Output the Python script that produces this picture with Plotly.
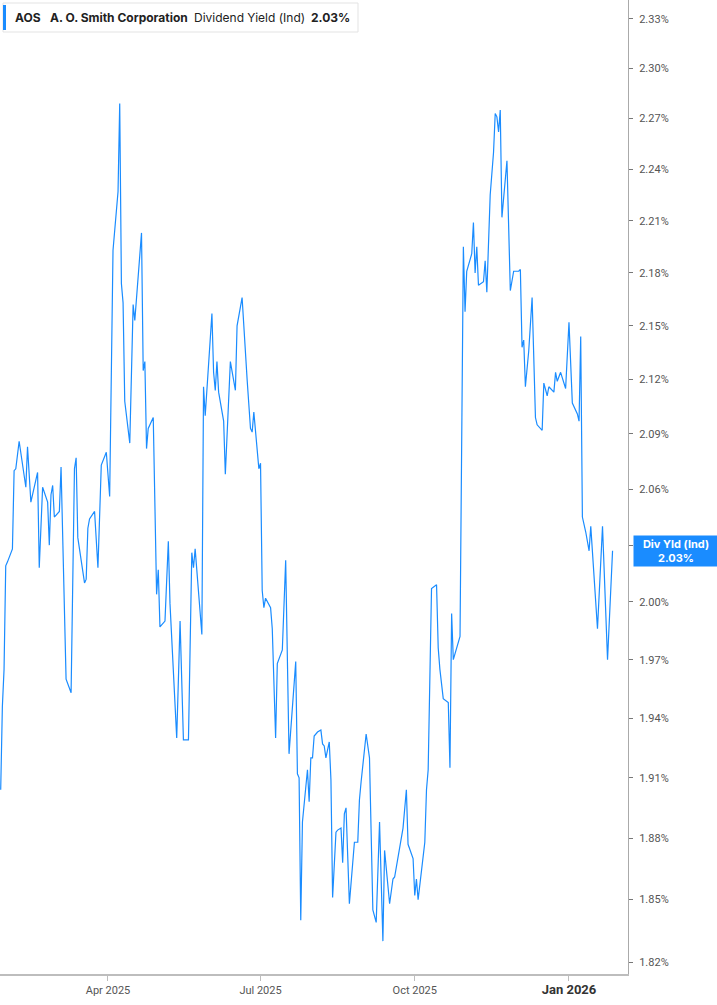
import math
import plotly.graph_objects as go

# dividend yield (indicated), %
dates = [
    "2025-01-27", "2025-01-28", "2025-01-29", "2025-01-30", "2025-01-31",
    "2025-02-03", "2025-02-04", "2025-02-05", "2025-02-07", "2025-02-11",
    "2025-02-12", "2025-02-14", "2025-02-18", "2025-02-19", "2025-02-21",
    "2025-02-24", "2025-02-25", "2025-02-26", "2025-02-27", "2025-02-28",
    "2025-03-03", "2025-03-04", "2025-03-07", "2025-03-10", "2025-03-12",
    "2025-03-13", "2025-03-14", "2025-03-18", "2025-03-19", "2025-03-20",
    "2025-03-21", "2025-03-24", "2025-03-26", "2025-03-28", "2025-03-31",
    "2025-04-02", "2025-04-04", "2025-04-07", "2025-04-08", "2025-04-09",
    "2025-04-10", "2025-04-11", "2025-04-14", "2025-04-16", "2025-04-17",
    "2025-04-21", "2025-04-22", "2025-04-23", "2025-04-24", "2025-04-25",
    "2025-04-28", "2025-04-30", "2025-05-01", "2025-05-02", "2025-05-05",
    "2025-05-07", "2025-05-08", "2025-05-12", "2025-05-14", "2025-05-16",
    "2025-05-19", "2025-05-21", "2025-05-22", "2025-05-23", "2025-05-27",
    "2025-05-28", "2025-05-29", "2025-06-02", "2025-06-03", "2025-06-04",
    "2025-06-05", "2025-06-06", "2025-06-09", "2025-06-10", "2025-06-13",
    "2025-06-16", "2025-06-17", "2025-06-20", "2025-06-23", "2025-06-25",
    "2025-06-26", "2025-06-27", "2025-06-30", "2025-07-01", "2025-07-02",
    "2025-07-03", "2025-07-04", "2025-07-07", "2025-07-08", "2025-07-10",
    "2025-07-11", "2025-07-14", "2025-07-16", "2025-07-18", "2025-07-22",
    "2025-07-23", "2025-07-24", "2025-07-25", "2025-07-26", "2025-07-29",
    "2025-07-30", "2025-07-31", "2025-08-01", "2025-08-02", "2025-08-04",
    "2025-08-06", "2025-08-07", "2025-08-08", "2025-08-09", "2025-08-11",
    "2025-08-12", "2025-08-13", "2025-08-15", "2025-08-16", "2025-08-18",
    "2025-08-19", "2025-08-20", "2025-08-21", "2025-08-23", "2025-08-26",
    "2025-08-28", "2025-08-29", "2025-08-30", "2025-09-02", "2025-09-04",
    "2025-09-06", "2025-09-08", "2025-09-10", "2025-09-12", "2025-09-13",
    "2025-09-16", "2025-09-18", "2025-09-19", "2025-09-23", "2025-09-24",
    "2025-09-26", "2025-09-27", "2025-09-30", "2025-10-01", "2025-10-02",
    "2025-10-03", "2025-10-07", "2025-10-08", "2025-10-09", "2025-10-11",
    "2025-10-14", "2025-10-15", "2025-10-16", "2025-10-18", "2025-10-21",
    "2025-10-22", "2025-10-23", "2025-10-24", "2025-10-28", "2025-10-30",
    "2025-10-31", "2025-11-01", "2025-11-04", "2025-11-05", "2025-11-06",
    "2025-11-07", "2025-11-08", "2025-11-11", "2025-11-12", "2025-11-13",
    "2025-11-15", "2025-11-17", "2025-11-18", "2025-11-19", "2025-11-20",
    "2025-11-21", "2025-11-22", "2025-11-25", "2025-11-27", "2025-11-29",
    "2025-12-02", "2025-12-03", "2025-12-04", "2025-12-05", "2025-12-06",
    "2025-12-08", "2025-12-10", "2025-12-12", "2025-12-13", "2025-12-16",
    "2025-12-17", "2025-12-19", "2025-12-20", "2025-12-23", "2025-12-24",
    "2025-12-25", "2025-12-27", "2025-12-30", "2026-01-01", "2026-01-03",
    "2026-01-06", "2026-01-07", "2026-01-08", "2026-01-09", "2026-01-11",
    "2026-01-13", "2026-01-14", "2026-01-18", "2026-01-21", "2026-01-24",
    "2026-01-27",
]

div_yield = [
    1.904, 1.946, 1.965, 2.019, 2.021,
    2.028, 2.070, 2.071, 2.086, 2.061,
    2.083, 2.053, 2.069, 2.018, 2.061,
    2.053, 2.030, 2.057, 2.062, 2.045,
    2.048, 2.072, 1.960, 1.953, 2.071,
    2.077, 2.034, 2.010, 2.012, 2.039,
    2.044, 2.048, 2.018, 2.073, 2.080,
    2.056, 2.193, 2.227, 2.279, 2.174,
    2.163, 2.108, 2.085, 2.162, 2.153,
    2.203, 2.125, 2.130, 2.082, 2.093,
    2.099, 2.004, 2.017, 1.987, 1.990,
    2.032, 1.999, 1.930, 1.990, 1.929,
    1.929, 2.026, 2.018, 2.028, 1.983,
    2.116, 2.100, 2.157, 2.124, 2.114,
    2.130, 2.113, 2.097, 2.068, 2.130,
    2.114, 2.150, 2.166, 2.120, 2.093,
    2.091, 2.102, 2.071, 2.074, 2.006,
    1.997, 2.002, 1.997, 1.986, 1.930,
    1.968, 1.975, 2.022, 1.922, 1.969,
    1.912, 1.910, 1.840, 1.888, 1.914,
    1.898, 1.920, 1.920, 1.931, 1.933,
    1.934, 1.927, 1.926, 1.920, 1.928,
    1.909, 1.851, 1.883, 1.884, 1.885,
    1.868, 1.892, 1.895, 1.848, 1.878,
    1.878, 1.899, 1.908, 1.932, 1.920,
    1.845, 1.839, 1.888, 1.830, 1.874,
    1.848, 1.860, 1.861, 1.882, 1.885,
    1.904, 1.877, 1.870, 1.852, 1.860,
    1.850, 1.878, 1.904, 1.914, 2.007,
    2.009, 1.976, 1.965, 1.950, 1.948,
    1.915, 1.994, 1.970, 1.982, 2.195,
    2.158, 2.181, 2.191, 2.209, 2.180,
    2.195, 2.173, 2.175, 2.187, 2.169,
    2.225, 2.250, 2.273, 2.271, 2.262,
    2.275, 2.212, 2.245, 2.170, 2.181,
    2.181, 2.182, 2.138, 2.142, 2.116,
    2.136, 2.166, 2.099, 2.095, 2.092,
    2.118, 2.111, 2.116, 2.113, 2.124,
    2.119, 2.124, 2.115, 2.152, 2.107,
    2.101, 2.097, 2.144, 2.045, 2.037,
    2.027, 2.040, 1.986, 2.040, 1.970,
    2.027,
]

y_ticks = [1.82, 1.85, 1.88, 1.91, 1.94, 1.97, 2.00, 2.03, 2.06, 2.09,
           2.12, 2.15, 2.18, 2.21, 2.24, 2.27, 2.30, 2.33]
x_ticks = ["2025-04-01", "2025-07-01", "2025-10-01", "2026-01-01"]
x_tick_text = ["Apr 2025", "Jul 2025", "Oct 2025",
               "<span style='font-size:13px;color:#333'><b>Jan 2026</b></span>"]

ticker = "AOS"
company = "A. O. Smith Corporation"
metric = "Dividend Yield (Ind)"
last_label = "Div Yld (Ind)"

BLUE = "#1a8cff"
W, H = 717, 1005
PLOT_W, PLOT_H = 628, 974   # plot area in pixels (origin top-left)


def px(x):
    return x / PLOT_W


def py(y):
    return 1 - y / PLOT_H


fig = go.Figure()
fig.add_trace(go.Scatter(
    x=dates, y=div_yield, mode="lines",
    line=dict(color=BLUE, width=1.2),
    hoverinfo="skip", showlegend=False,
))

last = div_yield[-1]
# the tick label hidden behind the last-value box is left blank
y_tick_text = ["" if f"{v:.2f}" == f"{last:.2f}" else f"{v:.2f}%" for v in y_ticks]

fig.update_layout(
    width=W, height=H,
    margin=dict(l=0, r=W - PLOT_W, t=0, b=H - PLOT_H),
    paper_bgcolor="white", plot_bgcolor="white",
    font=dict(family="Roboto, Inter, sans-serif", size=11, color="#555"),
    xaxis=dict(
        type="date",
        range=["2025-01-26 14:00", "2026-02-05 05:00"],
        tickvals=x_ticks, ticktext=x_tick_text,
        showgrid=False, zeroline=False,
        showline=True, linecolor="#bdbdbd", linewidth=2,
        ticks="outside", ticklen=5, tickcolor="#bdbdbd", tickwidth=1,
        tickfont=dict(size=11, color="#555"),
    ),
    yaxis=dict(
        type="log", side="right",
        range=[0.25871, 0.36951],
        tickvals=y_ticks, ticktext=y_tick_text,
        showgrid=False, zeroline=False,
        showline=True, linecolor="#aaaaaa", linewidth=1,
        ticks="outside", ticklen=4, tickcolor="#777", tickwidth=1,
        ticklabelstandoff=4,
        tickfont=dict(size=11, color="#555"),
    ),
)

# header box top-left
fig.add_shape(type="rect", xref="paper", yref="paper",
              x0=px(3), x1=px(358), y0=py(32), y1=py(3),
              line=dict(color="#e3e3e3", width=1), fillcolor="white")
fig.add_shape(type="rect", xref="paper", yref="paper",
              x0=px(3), x1=px(6), y0=py(30), y1=py(5),
              line=dict(width=0), fillcolor=BLUE)

head = [(13, f"<b>{ticker}</b>"), (48, f"<b>{company}</b>"),
        (192, metric), (309, f"<b>{last:.2f}%</b>")]
for xpos, txt in head:
    fig.add_annotation(x=px(xpos), y=py(17), xref="paper", yref="paper",
                       text=txt, showarrow=False, xanchor="left", yanchor="middle",
                       font=dict(family="Inter, Roboto, sans-serif", size=12, color="#222"))

# last value label on the axis (log axis -> position in log10 units)
fig.add_annotation(x=px(633), y=math.log10(last), xref="paper", yref="y",
                   text=f"<b>{last_label}</b><br><b>{last:.2f}%</b>",
                   showarrow=False, xanchor="left", yanchor="middle",
                   width=80, height=26, align="center", bgcolor=BLUE, borderpad=2,
                   font=dict(family="Inter, Roboto, sans-serif", size=11, color="white"))

# page body has a default 8px margin; drop it so the figure sits at the corner
fig.write_html("out.html", config={"displayModeBar": False},
               post_script="document.body.style.margin='0';")
